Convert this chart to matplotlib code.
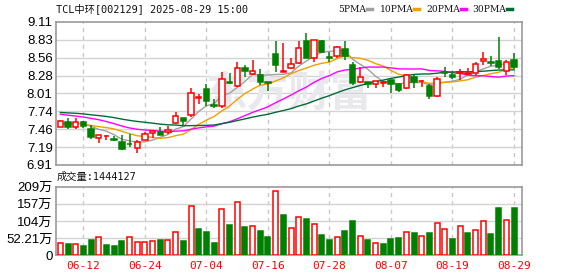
import matplotlib
matplotlib.use("Agg")
import matplotlib.pyplot as plt
from matplotlib.lines import Line2D
import numpy as np

# trading days shown on the x axis (index of bar, label)
tick_idx = [3, 11, 19, 27, 35, 43, 51, 59]
tick_labels = ["06-12", "06-24", "07-04", "07-16", "07-28", "08-07", "08-19", "08-29"]

# daily OHLC, 2025-06-09 .. 2025-08-29
opens = [7.50, 7.57, 7.49, 7.57, 7.47, 7.33, 7.35, 7.31, 7.26, 7.24,
         7.17, 7.30, 7.40, 7.41, 7.41, 7.56, 7.64, 7.68, 7.94, 8.08,
         7.84, 7.82, 8.18, 8.13, 8.395, 8.31, 8.29, 8.18, 8.61, 8.345,
         8.40, 8.48, 8.82, 8.55, 8.81, 8.565, 8.585, 8.69, 8.455, 8.18,
         8.19, 8.16, 8.175, 8.21, 8.155, 8.09, 8.27, 8.195, 8.13, 7.97,
         8.34, 8.30, 8.33, 8.31, 8.32, 8.51, 8.49, 8.515, 8.35, 8.525]
closes = [7.59, 7.50, 7.57, 7.51, 7.345, 7.365, 7.36, 7.295, 7.16, 7.23,
          7.26, 7.39, 7.43, 7.37, 7.45, 7.67, 7.585, 8.015, 7.95, 7.89,
          7.82, 8.235, 8.17, 8.40, 8.35, 8.36, 8.19, 8.17, 8.445, 8.36,
          8.47, 8.71, 8.56, 8.83, 8.65, 8.55, 8.73, 8.59, 8.165, 8.26,
          8.16, 8.20, 8.185, 8.15, 8.065, 8.295, 8.19, 8.20, 7.97, 8.23,
          8.33, 8.27, 8.34, 8.33, 8.46, 8.54, 8.48, 8.41, 8.50, 8.41]
highs = [7.60, 7.63, 7.63, 7.58, 7.52, 7.37, 7.37, 7.36, 7.37, 7.38,
         7.29, 7.42, 7.44, 7.50, 7.51, 7.73, 7.64, 8.10, 8.00, 8.15,
         7.93, 8.34, 8.32, 8.50, 8.445, 8.52, 8.38, 8.19, 8.81, 8.78,
         8.55, 8.81, 8.94, 8.83, 8.83, 8.65, 8.74, 8.81, 8.50, 8.41,
         8.19, 8.20, 8.20, 8.21, 8.17, 8.31, 8.30, 8.21, 8.15, 8.26,
         8.41, 8.35, 8.38, 8.40, 8.49, 8.65, 8.59, 8.88, 8.53, 8.63]
lows = [7.49, 7.47, 7.47, 7.48, 7.31, 7.25, 7.29, 7.28, 7.14, 7.19,
        7.09, 7.29, 7.33, 7.37, 7.39, 7.535, 7.51, 7.645, 7.85, 7.82,
        7.79, 7.78, 8.16, 8.11, 8.27, 8.30, 8.14, 8.05, 8.34, 8.345,
        8.39, 8.465, 8.555, 8.49, 8.64, 8.49, 8.55, 8.52, 8.14, 8.17,
        8.09, 8.10, 8.115, 8.02, 8.04, 8.08, 8.10, 8.11, 7.93, 7.96,
        8.27, 8.23, 8.22, 8.29, 8.30, 8.45, 8.43, 8.38, 8.29, 8.38]

# closes of the 29 sessions before the window, only used for the moving averages
prior_closes = [7.70, 7.74, 7.80, 7.76, 7.72, 7.78, 7.82, 7.85, 7.80, 7.76,
                7.79, 7.83, 7.81, 7.76, 7.78, 7.92, 7.95, 7.88, 7.83, 7.66,
                7.62, 7.55, 7.60, 7.57, 7.55, 7.50, 7.52, 7.52, 7.58]

# volume in 万手
volumes = [36.5, 34.5, 33.5, 28.4, 46.6, 54.7, 31.4, 28.4, 43.6, 54.7,
           39.5, 39.5, 42.6, 47.6, 46.6, 70.0, 43.6, 151.0, 80.0, 71.0,
           37.5, 140.0, 92.0, 161.0, 86.0, 88.0, 74.0, 56.0, 195.0, 123.0,
           82.0, 115.6, 109.5, 94.0, 62.0, 46.6, 54.7, 74.0, 104.4, 57.8,
           46.6, 36.5, 34.5, 49.7, 52.7, 70.0, 67.0, 57.8, 67.0, 97.3,
           80.0, 49.7, 88.2, 67.0, 76.0, 104.4, 63.9, 144.0, 107.5, 144.4127]

price_ticks = [6.91, 7.185, 7.46, 7.735, 8.01, 8.285, 8.56, 8.835, 9.11]
price_labels = ["6.91", "7.19", "7.46", "7.74", "8.01", "8.28", "8.56", "8.83", "9.11"]
vol_ticks = [0, 52.21, 104.42, 156.63, 208.84]
vol_labels = ["0", "52.21万", "104万", "157万", "209万"]

ma_periods = [5, 10, 20, 30]
ma_colors = ["#a0a0a0", "#f0a000", "#ff00ff", "#006c35"]

RED = "#ff0000"
GREEN = "#008000"
GRID = "#d3d3d3"
FRAME = "#9a9a9a"
MONO = ["DejaVu Sans Mono", "Noto Sans CJK SC"]
SANS = ["Liberation Sans", "Noto Sans CJK SC"]

W, H = 578, 276
fig = plt.figure(figsize=(W / 100, H / 100), dpi=100)
ax = fig.add_axes([55.5 / W, (H - 165) / H, 466.5 / W, 143 / H])
axv = fig.add_axes([55.5 / W, (H - 255.3) / H, 466.5 / W, 68.6 / H])

x = np.arange(len(closes))
o = np.array(opens)
c = np.array(closes)
up = c >= o

# moving averages
all_close = np.array(prior_closes + closes)
n0 = len(prior_closes)
for p, col in zip(ma_periods, ma_colors):
    ma = [all_close[n0 + i - p + 1:n0 + i + 1].mean() for i in x]
    ax.plot(x, ma, color=col, lw=1.0, zorder=3)

# candles
wick_cols = [RED if u else GREEN for u in up]
ax.vlines(x, lows, highs, colors=wick_cols, lw=1.1, zorder=4)
body_bottom = np.minimum(o, c)
body_h = np.abs(c - o)
ax.bar(x, body_h, bottom=body_bottom, width=0.7,
       color=["white" if u else GREEN for u in up],
       edgecolor=wick_cols, linewidth=1.1, zorder=5)

# watermark
ax.text(0.5, 0.5, "东方财富", transform=ax.transAxes, ha="center", va="center",
        fontsize=30, fontweight="bold", color="#e8e8ed",
        family=["Noto Sans CJK SC"], zorder=1)

# volume bars, coloured by close vs previous close
prev_close = np.concatenate([[prior_closes[-1]], c[:-1]])
vol_up = c >= prev_close
axv.bar(x, volumes, width=0.65,
        color=["white" if u else GREEN for u in vol_up],
        edgecolor=[RED if u else GREEN for u in vol_up], linewidth=1.1, zorder=3)

for a in (ax, axv):
    a.set_xlim(-0.63, 60.04)
    for t in tick_idx:
        a.axvline(t, color="#c8c8c8", lw=1, ls=(0, (3, 3)), zorder=0)
    for s in a.spines.values():
        s.set_color(FRAME)
        s.set_linewidth(1.2)
    a.tick_params(length=0, pad=2, labelsize=9.5)

ax.set_ylim(6.91, 9.11)
ax.set_yticks(price_ticks)
ax.set_yticklabels(price_labels, family=SANS)
for yv in price_ticks[1:-1]:
    ax.axhline(yv, color=GRID, lw=1, zorder=0)
ax.set_xticks([])

axv.set_ylim(0, 208.84)
axv.set_yticks(vol_ticks)
axv.set_yticklabels(vol_labels, family=SANS)
for yv in vol_ticks[1:-1]:
    axv.axhline(yv, color=GRID, lw=1, zorder=0)
axv.set_xticks(tick_idx)
axv.set_xticklabels(tick_labels, family=MONO, fontsize=8, color=RED)
axv.tick_params(axis="x", pad=4)

# header texts
fig.text(56 / W, 1 - 9 / H, "TCL中环[002129] 2025-08-29 15:00", family=MONO,
         fontsize=7.4, va="center", ha="left", color="#111111")
fig.text(57 / W, 1 - 177 / H, "成交量:1444127", family=MONO,
         fontsize=7.4, va="center", ha="left", color="#111111")

# legend
leg = [("5PMA", 338, 367), ("10PMA", 380, 414), ("20PMA", 426, 461), ("30PMA", 472, 507)]
for (name, tx, lx), col in zip(leg, ma_colors):
    fig.text(tx / W, 1 - 9 / H, name, family=["DejaVu Serif"], fontsize=6.6,
             va="center", ha="left", color="#111111")
    fig.add_artist(Line2D([lx / W, (lx + 5) / W], [1 - 9 / H, 1 - 9 / H],
                          color=col, lw=2.5, transform=fig.transFigure))

fig.savefig("out.png", dpi=100)
